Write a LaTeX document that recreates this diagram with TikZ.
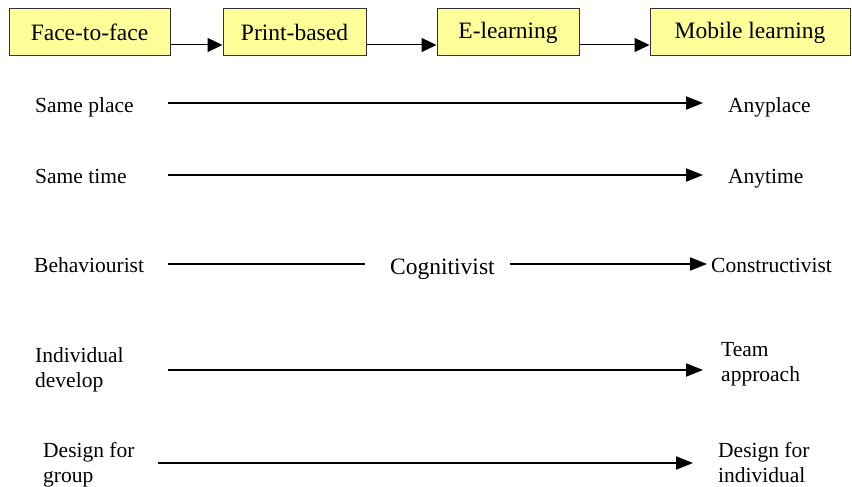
\documentclass[tikz,border=0pt]{standalone}
\usepackage{fontspec}
\setmainfont{Liberation Serif}
\usetikzlibrary{arrows.meta}
\definecolor{boxyellow}{HTML}{FFFF99}
\tikzset{
  stagebox/.style={draw=black!80, fill=boxyellow, line width=1pt, inner sep=0pt,
    minimum height=47pt, font=\fontsize{23.5}{28}\selectfont},
  boxarrow/.style={line width=1pt, -{Triangle[length=15pt,width=14pt]}},
  lbl/.style={inner sep=0pt, align=left, font=\fontsize{21.5}{25}\selectfont},
  rowline/.style={line width=2pt},
  rowarrow/.style={rowline, -{Triangle[length=17pt,width=13pt]}}
}

\begin{document}
\begin{tikzpicture}[x=1pt,y=-1pt]
  \useasboundingbox (0,0) rectangle (852,487);

  % Stages
  \node[stagebox, minimum width=161pt] (ftf) at (89.5,32.5) {Face-to-face};
  \node[stagebox, minimum width=143pt] (pb) at (294.5,32.5) {Print-based};
  \node[stagebox, minimum width=142pt] (el) at (508,32.5) {E-learning};
  \node[stagebox, minimum width=200pt] (ml) at (750,32.5) {Mobile learning};
  \foreach \a/\b in {ftf/pb, pb/el, el/ml}
    \draw[boxarrow] ([yshift=-12.5pt]\a.east) -- ([yshift=-12.5pt]\b.west);

  % Place
  \node[lbl, anchor=base west] (samep) at (35,113) {Same place};
  \node[lbl, anchor=base west] (anyp) at (728,113) {Anyplace};
  \coordinate (r1) at (168,103);
  \draw[rowarrow, shorten >=25pt] (r1) -- (r1 -| anyp.west);

  % Time
  \node[lbl, anchor=base west] (samet) at (35,183) {Same time};
  \node[lbl, anchor=base west] (anyt) at (728,183) {Anytime};
  \coordinate (r2) at (168,175);
  \draw[rowarrow, shorten >=25pt] (r2) -- (r2 -| anyt.west);

  % Theory
  \node[lbl, anchor=base west] (beh) at (34,272.5) {Behaviourist};
  \node[lbl, anchor=base west, font=\fontsize{23.5}{28}\selectfont] (cog) at (390,274) {Cognitivist};
  \node[lbl, anchor=base west] (con) at (711,272.5) {Constructivist};
  \coordinate (r3) at (168,264);
  \draw[rowline, shorten >=25pt] (r3) -- (r3 -| cog.west);
  \draw[rowarrow, shorten <=15pt, shorten >=4pt] (r3 -| cog.east) -- (r3 -| con.west);

  % Development
  \node[lbl, anchor=west] (indiv) at (35,369.5) {Individual\\develop};
  \node[lbl, anchor=west] (team) at (721,364.5) {Team\\approach};
  \coordinate (r4) at (168,370);
  \draw[rowarrow, shorten >=18pt] (r4) -- (r4 -| team.west);

  % Design
  \node[lbl, anchor=west] (dgroup) at (43,464.5) {Design for\\group};
  \node[lbl, anchor=west] (dindiv) at (718,462.7) {Design for\\individual};
  \coordinate (r5) at (158,463);
  \draw[rowarrow, shorten >=25pt] (r5) -- (r5 -| dindiv.west);
\end{tikzpicture}
\end{document}
